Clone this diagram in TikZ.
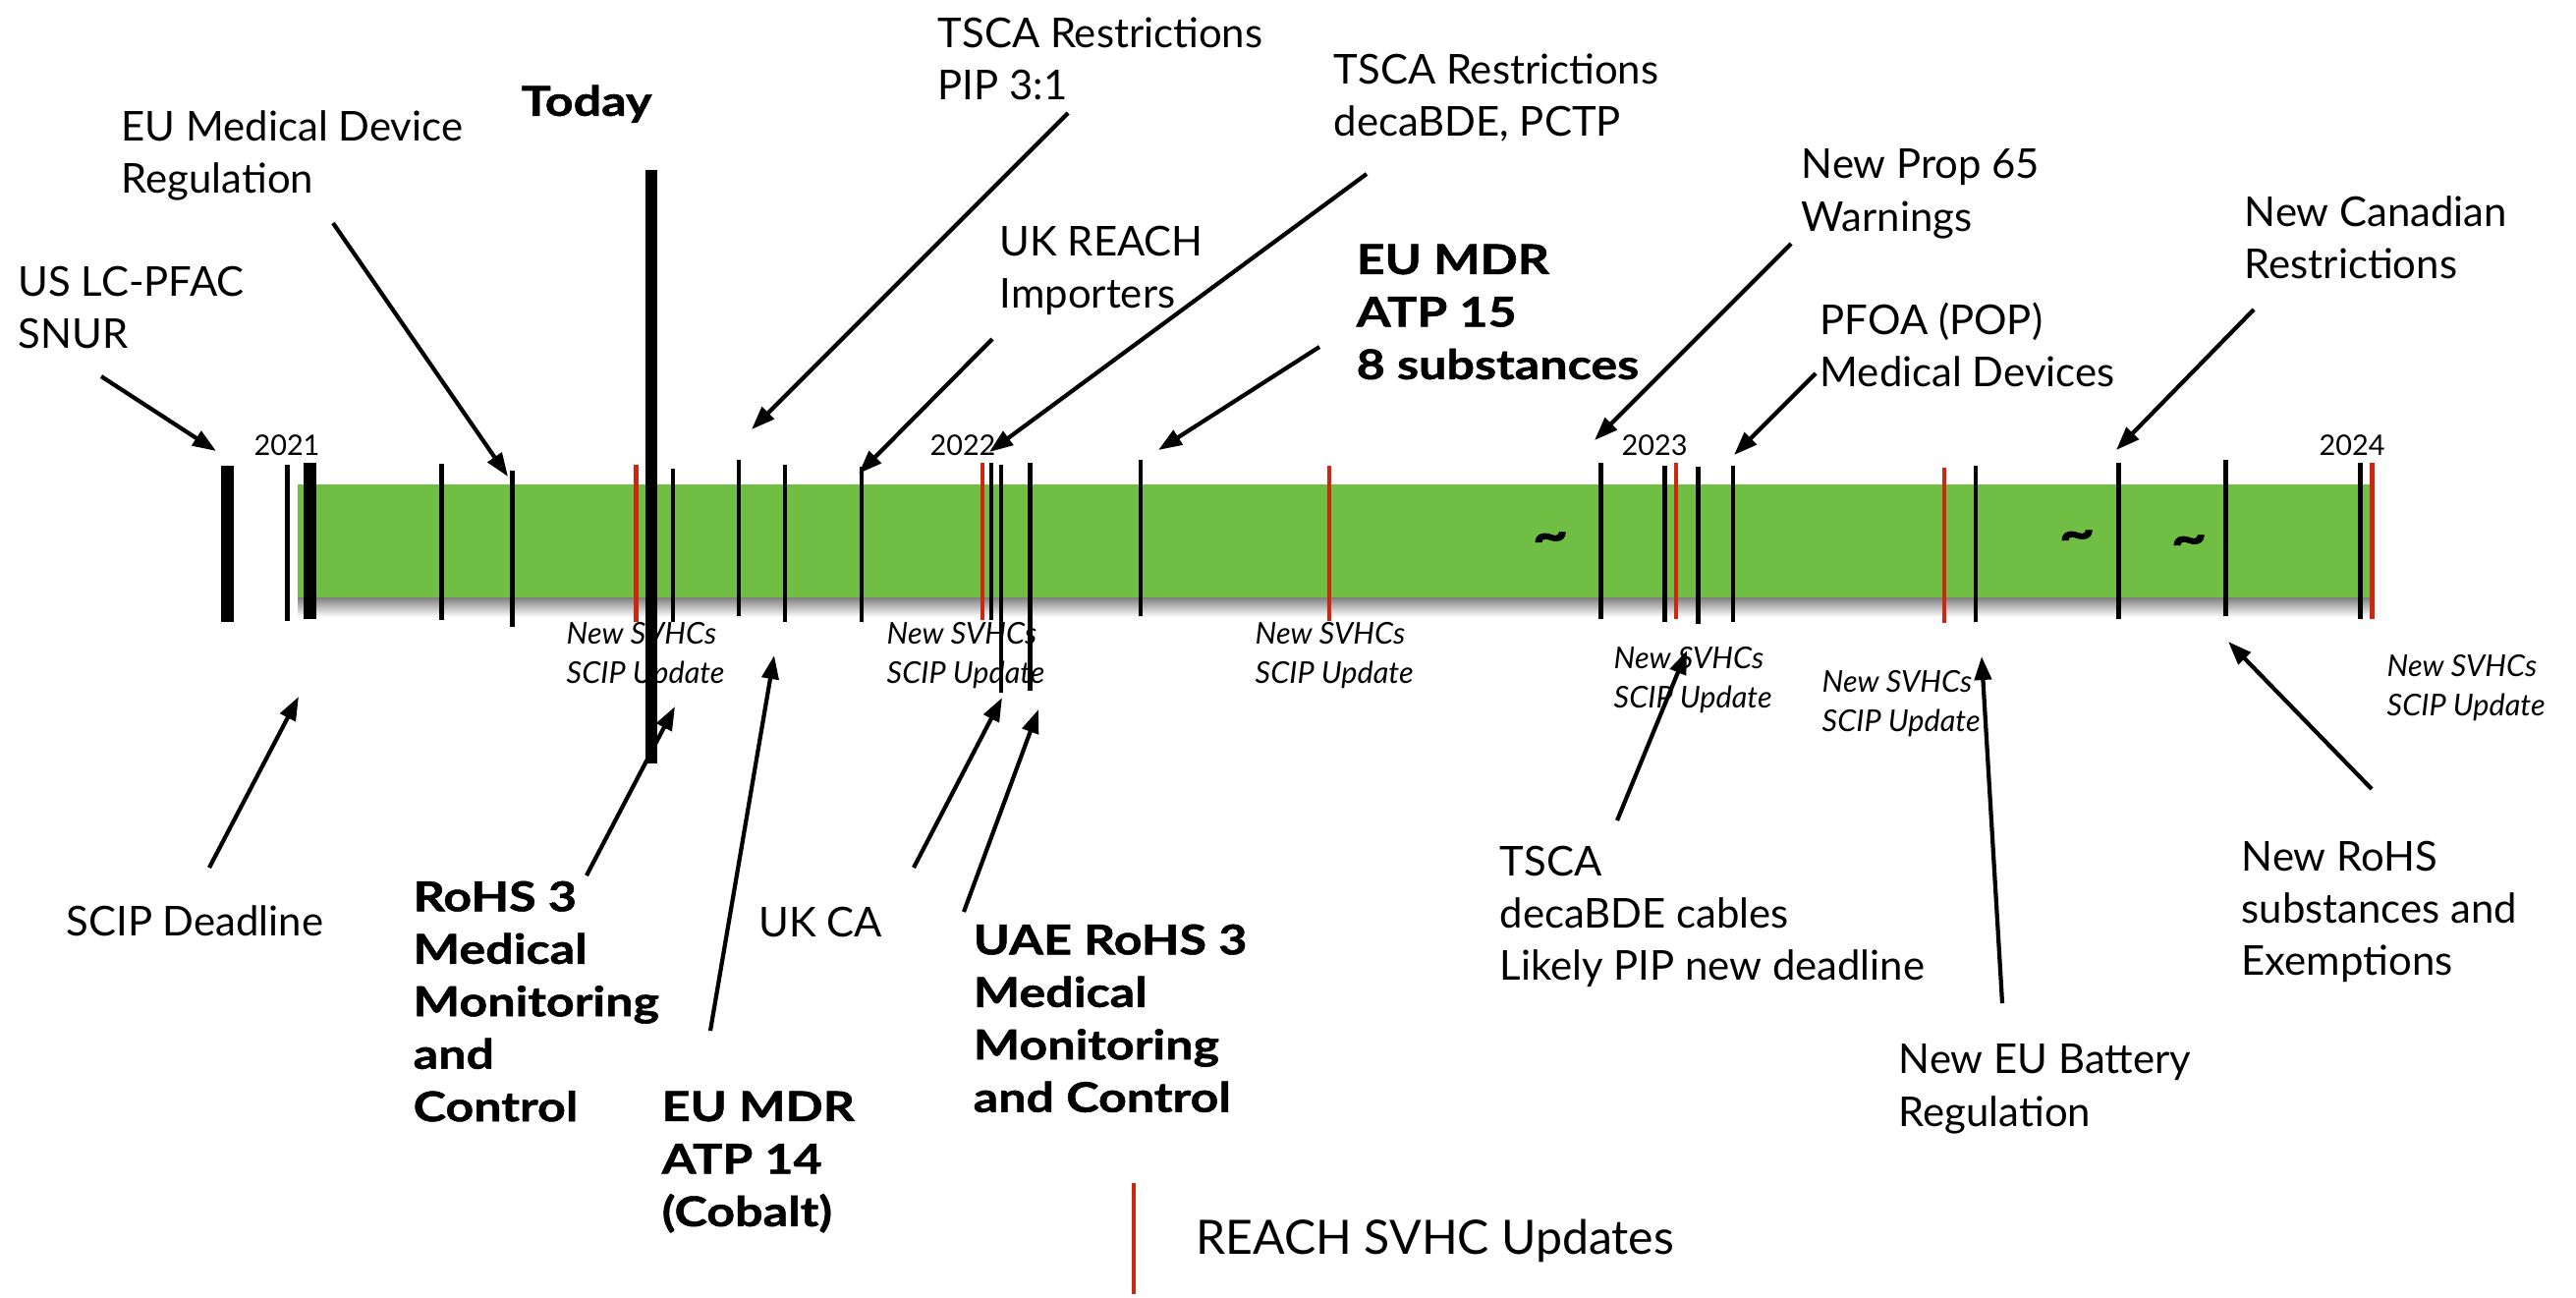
\documentclass[tikz,border=0pt]{standalone}
\usepackage{fontspec}
\setmainfont{Lato}[BoldFeatures={FakeStretch=1.2,FakeBold=1.2}]
\usetikzlibrary{arrows.meta}
\definecolor{bargreen}{RGB}{113,190,68}
\definecolor{svhcred}{RGB}{205,40,15}
\tikzset{>={Triangle[length=0.24cm,width=0.17cm]},
  lab/.style={anchor=north west,inner sep=0pt,align=left,font=\fontsize{11.9pt}{15.2pt}\selectfont},
  labbold/.style={lab,font=\fontsize{11.9pt}{15.2pt}\selectfont\bfseries},
  note/.style={anchor=north west,inner sep=0pt,align=left,font=\fontsize{8.7pt}{11.4pt}\selectfont\itshape},
  yearlab/.style={anchor=base,inner sep=0pt,font=\fontsize{8.2pt}{10pt}\selectfont},
  squig/.style={inner sep=0pt,font=\fontsize{15pt}{15pt}\selectfont\bfseries},
  ptr/.style={->,line width=1.2pt},
  tickline/.style={line width=1.4pt},
  tickthick/.style={line width=3.7pt},
  tickred/.style={svhcred,line width=1.4pt}}

\begin{document}
\begin{tikzpicture}[x=0.01cm,y=-0.01cm]
\useasboundingbox (0,0) rectangle (2622,1320);
\shade[top color=black!50,bottom color=white] (303,608) rectangle (2412,628);
\fill[bargreen] (303,493) rectangle (2412,608);
\node[squig] (sq1) at (1578,552) {\textasciitilde};
\node[squig] (sq2) at (2114,550) {\textasciitilde};
\node[squig] (sq3) at (2228,555) {\textasciitilde};

\draw[tickthick] (231.7,474) -- (231.7,633);
\draw[tickthick] (315.3,471) -- (315.3,630);
\draw[tickline] (292.5,473) -- (292.5,632);
\draw[tickline] (449.5,472) -- (449.5,631);
\draw[tickline] (521.8,479) -- (521.8,638);
\draw[tickred] (647.5,473) -- (647.5,633);
\draw[tickline] (685,477) -- (685,633);
\draw[tickline] (752,468) -- (752,627);
\draw[tickline] (799,473) -- (799,633);
\draw[tickline] (877,475) -- (877,633);
\draw[tickred] (1000,471) -- (1000,631);
\draw[tickline] (1009,471) -- (1009,631);
\draw[tickline] (1019,473) -- (1019,705);
\draw[tickline] (1048.5,471) -- (1048.5,703);
\draw[tickline] (1161,468) -- (1161,627);
\draw[tickred] (1353,474) -- (1353,632);
\draw[tickline] (1629.5,471) -- (1629.5,630);
\draw[tickline] (1694.5,474) -- (1694.5,633);
\draw[tickred] (1706,471) -- (1706,630);
\draw[tickline] (1728.5,475) -- (1728.5,635);
\draw[tickline] (1764,474) -- (1764,633);
\draw[tickred] (1979,476) -- (1979,634);
\draw[tickline] (2011,474) -- (2011,633);
\draw[tickline] (2156.7,471) -- (2156.7,630);
\draw[tickline] (2265,468) -- (2265,627);
\draw[tickline] (2402,471) -- (2402,630);
\draw[tickred] (2414,471) -- (2414,630);
\draw[line width=3.5pt] (663,173) -- (663,777);

\node[yearlab] (y2021) at (292,463) {2021};
\node[yearlab] (y2022) at (980,463) {2022};
\node[yearlab] (y2023) at (1684,463) {2023};
\node[yearlab] (y2024) at (2394,463) {2024};

\node[note] (svhc1) at (576,633) {New SVHCs\\SCIP Update};
\node[note] (svhc2) at (902,633) {New SVHCs\\SCIP Update};
\node[note] (svhc3) at (1277,633) {New SVHCs\\SCIP Update};
\node[note] (svhc4) at (1642,658) {New SVHCs\\SCIP Update};
\node[note] (svhc5) at (1854,682) {New SVHCs\\SCIP Update};
\node[note] (svhc6) at (2429,666) {New SVHCs\\SCIP Update};

\node[lab] (uslc) at (18,270) {US LC-PFAC\\SNUR};
\node[lab] (eumed) at (123,112) {EU Medical Device\\Regulation};
\node[labbold] (today) at (530,86) {Today};
\node[lab] (tscapip) at (954,17) {TSCA Restrictions\\PIP 3:1};
\node[lab] (ukreach) at (1017,229) {UK REACH\\Importers};
\node[lab] (tscadeca) at (1357,54) {TSCA Restrictions\\decaBDE, PCTP};
\node[labbold] (mdrfifteen) at (1380,248) {EU MDR\\ATP 15\\8 substances};
\node[lab] (propsixtyfive) at (1833,151) {New Prop 65\\Warnings};
\node[lab] (pfoa) at (1852,307) {PFOA (POP)\\Medical Devices};
\node[lab] (canada) at (2284,199) {New Canadian\\Restrictions};
\node[lab] (scipdl) at (67,921) {SCIP Deadline};
\node[labbold] (rohsmed) at (420,896) {RoHS 3\\Medical\\Monitoring\\and\\Control};
\node[labbold] (mdrfourteen) at (673,1110) {EU MDR\\ATP 14\\(Cobalt)};
\node[lab] (ukca) at (772,922) {UK CA};
\node[labbold] (uaerohs) at (990,940) {UAE RoHS 3\\Medical\\Monitoring\\and Control};
\node[lab] (tscacables) at (1526,860) {TSCA\\decaBDE cables\\Likely PIP new deadline};
\node[lab] (battery) at (1932,1062) {New EU Battery\\Regulation};
\node[lab] (newrohs) at (2281,855) {New RoHS\\substances and\\Exemptions};

\coordinate (uslc-t) at (103,383);      \coordinate (uslc-h) at (220,459);
\coordinate (eumed-t) at (339,227);     \coordinate (eumed-h) at (517,485);
\coordinate (tscapip-t) at (1087,115);  \coordinate (tscapip-h) at (765,437);
\coordinate (ukreach-t) at (1010,345);  \coordinate (ukreach-h) at (874,482);
\coordinate (tscadeca-t) at (1391,177); \coordinate (tscadeca-h) at (1007,460);
\coordinate (mdrfifteen-t) at (1343,353); \coordinate (mdrfifteen-h) at (1179,458);
\coordinate (prop-t) at (1823,248);     \coordinate (prop-h) at (1623,448);
\coordinate (pfoa-t) at (1848,380);     \coordinate (pfoa-h) at (1765,463);
\coordinate (canada-t) at (2294,315);   \coordinate (canada-h) at (2154,458);
\coordinate (scipdl-t) at (213,883);    \coordinate (scipdl-h) at (304,709);
\coordinate (rohsmed-t) at (597,891);   \coordinate (rohsmed-h) at (687,719);
\coordinate (mdrfourteen-t) at (723,1049); \coordinate (mdrfourteen-h) at (788,667);
\coordinate (ukca-t) at (930,883);      \coordinate (ukca-h) at (1020,710);
\coordinate (uaerohs-t) at (981,928);   \coordinate (uaerohs-h) at (1057,722);
\coordinate (cables-t) at (1646,835);   \coordinate (cables-h) at (1717,662);
\coordinate (battery-t) at (2038,1021); \coordinate (battery-h) at (2017,668);
\coordinate (newrohs-t) at (2414,803);  \coordinate (newrohs-h) at (2268,653);

\draw[ptr] (uslc-t) -- (uslc-h);
\draw[ptr] (eumed-t) -- (eumed-h);
\draw[ptr] (tscapip-t) -- (tscapip-h);
\draw[ptr] (ukreach-t) -- (ukreach-h);
\draw[ptr] (tscadeca-t) -- (tscadeca-h);
\draw[ptr] (mdrfifteen-t) -- (mdrfifteen-h);
\draw[ptr] (prop-t) -- (prop-h);
\draw[ptr] (pfoa-t) -- (pfoa-h);
\draw[ptr] (canada-t) -- (canada-h);
\draw[ptr] (scipdl-t) -- (scipdl-h);
\draw[ptr] (rohsmed-t) -- (rohsmed-h);
\draw[ptr] (mdrfourteen-t) -- (mdrfourteen-h);
\draw[ptr] (ukca-t) -- (ukca-h);
\draw[ptr] (uaerohs-t) -- (uaerohs-h);
\draw[ptr] (cables-t) -- (cables-h);
\draw[ptr] (battery-t) -- (battery-h);
\draw[ptr] (newrohs-t) -- (newrohs-h);

\draw[tickred] (1154,1204) -- (1154,1317);
\node[anchor=base west,inner sep=0pt,font=\fontsize{13.7pt}{16pt}\selectfont] (legend) at (1217,1276) {REACH SVHC Updates};
\end{tikzpicture}
\end{document}
